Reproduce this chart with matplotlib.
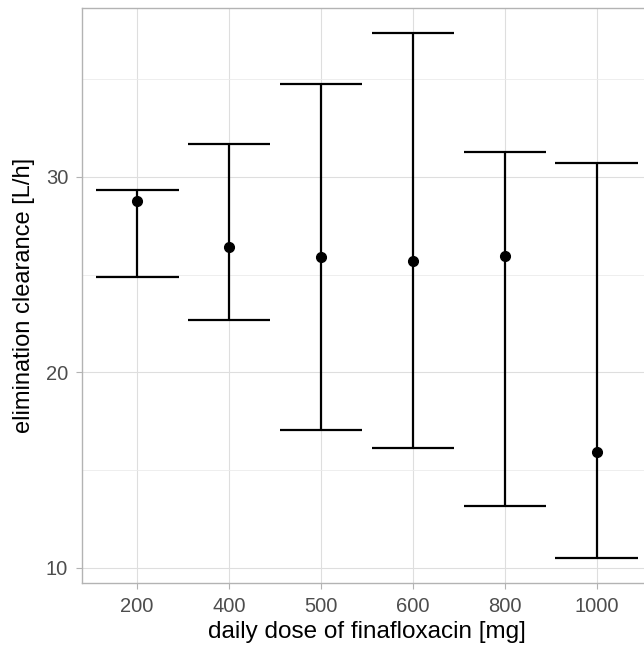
import matplotlib
matplotlib.use("Agg")
import matplotlib.pyplot as plt
from matplotlib.ticker import MultipleLocator

# daily dose groups and elimination clearance summary [L/h]
doses = ["200", "400", "500", "600", "800", "1000"]
clearance = [28.77, 26.42, 25.91, 25.70, 25.96, 15.95]
lower = [24.88, 22.69, 17.06, 16.14, 13.17, 10.51]
upper = [29.33, 31.69, 34.76, 37.37, 31.28, 30.72]

plt.rcParams["font.family"] = ["Liberation Sans", "DejaVu Sans"]

fig = plt.figure(figsize=(6.44, 6.49), dpi=100)
ax = fig.add_axes([82 / 644, 1 - 583 / 649, 570 / 644, 575 / 649])

pos = list(range(1, len(doses) + 1))
for x, lo, hi in zip(pos, lower, upper):
    ax.plot([x, x], [lo, hi], color="black", lw=1.6, solid_capstyle="butt", zorder=3)
    ax.plot([x - 0.45, x + 0.45], [lo, lo], color="black", lw=1.6, solid_capstyle="butt", zorder=3)
    ax.plot([x - 0.45, x + 0.45], [hi, hi], color="black", lw=1.6, solid_capstyle="butt", zorder=3)
ax.plot(pos, clearance, "o", color="black", ms=7, zorder=4)

ax.set_xlim(0.4, len(doses) + 0.6)
ax.set_ylim(9.23, 38.64)
ax.set_xticks(pos)
ax.set_xticklabels(doses)
ax.yaxis.set_major_locator(MultipleLocator(10))
ax.yaxis.set_minor_locator(MultipleLocator(5))

ax.grid(which="major", color="#DEDEDE", lw=0.8)
ax.grid(which="minor", axis="y", color="#EBEBEB", lw=0.6)
ax.set_axisbelow(True)
for s in ax.spines.values():
    s.set_color("#B3B3B3")
    s.set_linewidth(1.0)
ax.tick_params(which="major", length=4, width=0.8, color="#B3B3B3",
               labelsize=14.5, labelcolor="#4D4D4D", pad=6)
ax.tick_params(which="minor", length=0)

ax.set_xlabel("daily dose of finafloxacin [mg]", fontsize=17.5, labelpad=4)
ax.set_ylabel("elimination clearance [L/h]", fontsize=17, labelpad=8)

fig.savefig("out.png", dpi=100)
